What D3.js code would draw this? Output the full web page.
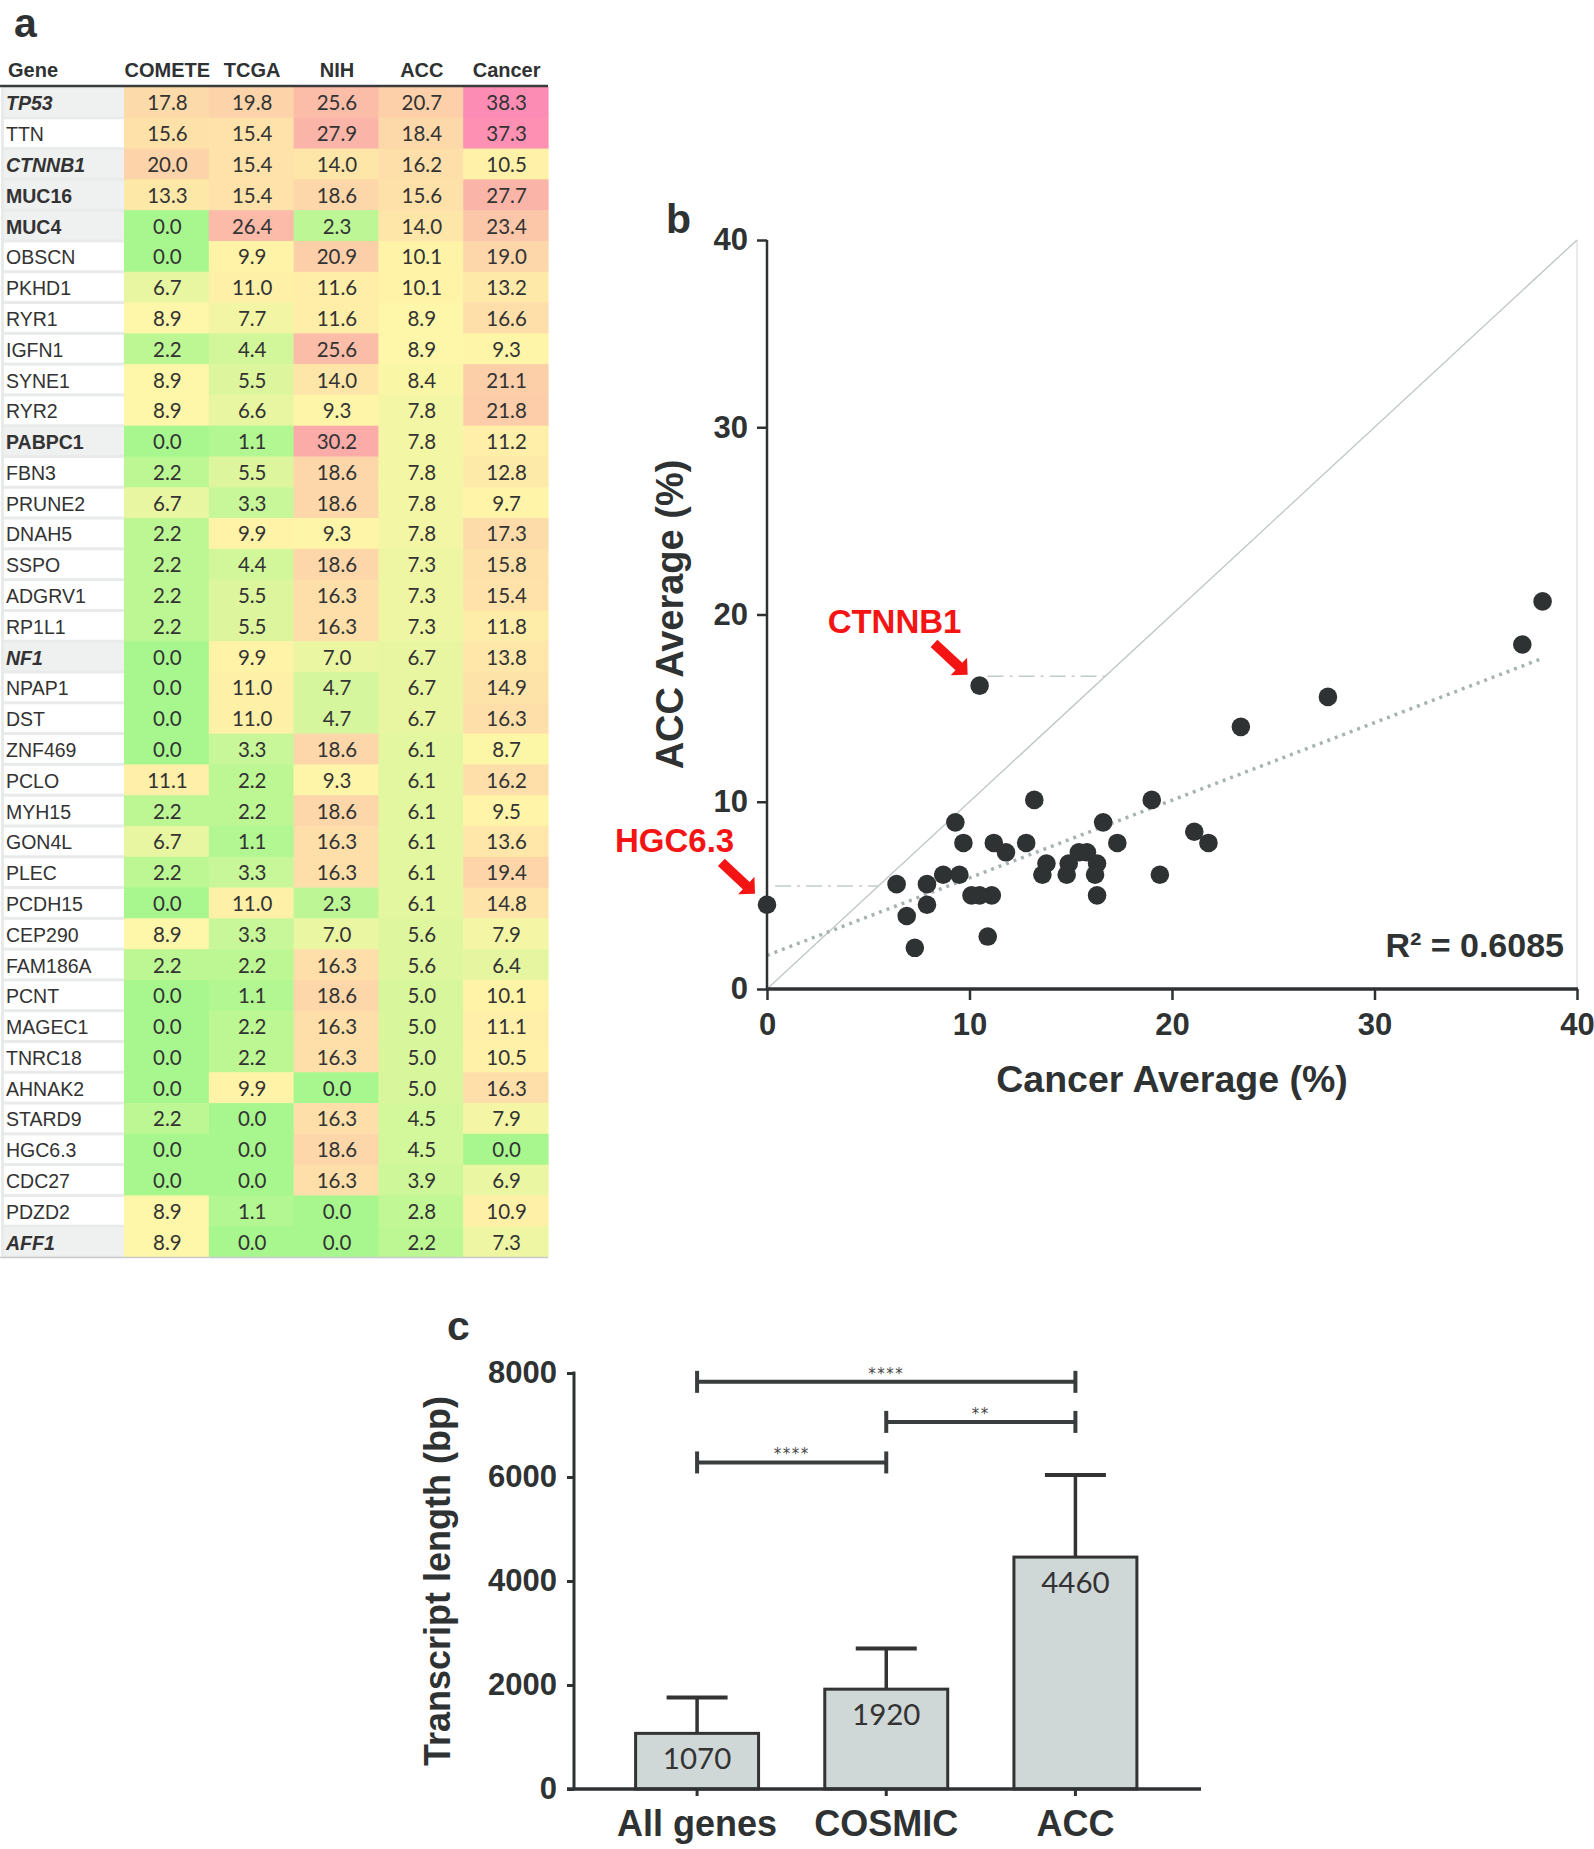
<!DOCTYPE html>
<html><head><meta charset="utf-8">
<script src="https://cdn.jsdelivr.net/npm/d3@7"></script>
<style>body{margin:0;background:#fff}svg{display:block}</style>
</head><body>
<svg id="c" width="1594" height="1849"></svg>
<script>
// ---------------- DATA ----------------
const genes = ["TP53","TTN","CTNNB1","MUC16","MUC4","OBSCN","PKHD1","RYR1","IGFN1","SYNE1","RYR2","PABPC1","FBN3","PRUNE2","DNAH5","SSPO","ADGRV1","RP1L1","NF1","NPAP1","DST","ZNF469","PCLO","MYH15","GON4L","PLEC","PCDH15","CEP290","FAM186A","PCNT","MAGEC1","TNRC18","AHNAK2","STARD9","HGC6.3","CDC27","PDZD2","AFF1"];
const comete = [17.8,15.6,20.0,13.3,0.0,0.0,6.7,8.9,2.2,8.9,8.9,0.0,2.2,6.7,2.2,2.2,2.2,2.2,0.0,0.0,0.0,0.0,11.1,2.2,6.7,2.2,0.0,8.9,2.2,0.0,0.0,0.0,0.0,2.2,0.0,0.0,8.9,8.9];
const tcga   = [19.8,15.4,15.4,15.4,26.4,9.9,11.0,7.7,4.4,5.5,6.6,1.1,5.5,3.3,9.9,4.4,5.5,5.5,9.9,11.0,11.0,3.3,2.2,2.2,1.1,3.3,11.0,3.3,2.2,1.1,2.2,2.2,9.9,0.0,0.0,0.0,1.1,0.0];
const nih    = [25.6,27.9,14.0,18.6,2.3,20.9,11.6,11.6,25.6,14.0,9.3,30.2,18.6,18.6,9.3,18.6,16.3,16.3,7.0,4.7,4.7,18.6,9.3,18.6,16.3,16.3,2.3,7.0,16.3,18.6,16.3,16.3,0.0,16.3,18.6,16.3,0.0,0.0];
const acc    = [20.7,18.4,16.2,15.6,14.0,10.1,10.1,8.9,8.9,8.4,7.8,7.8,7.8,7.8,7.8,7.3,7.3,7.3,6.7,6.7,6.7,6.1,6.1,6.1,6.1,6.1,6.1,5.6,5.6,5.0,5.0,5.0,5.0,4.5,4.5,3.9,2.8,2.2];
const cancer = [38.3,37.3,10.5,27.7,23.4,19.0,13.2,16.6,9.3,21.1,21.8,11.2,12.8,9.7,17.3,15.8,15.4,11.8,13.8,14.9,16.3,8.7,16.2,9.5,13.6,19.4,14.8,7.9,6.4,10.1,11.1,10.5,16.3,7.9,0.0,6.9,10.9,7.3];
const columns = ["COMETE","TCGA","NIH","ACC","Cancer"];
const boldGenes = ["TP53","CTNNB1","MUC16","MUC4","PABPC1","NF1","AFF1"];
const italicGenes = ["TP53","CTNNB1","NF1","AFF1"];

const scatterTicks = [0,10,20,30,40];
const annoGenes = ["CTNNB1","HGC6.3"];
const annoGuideY = [16.7,5.5];
const r2Label = "R² = 0.6085";

const barCats = ["All genes","COSMIC","ACC"];
const barMeans = [1070,1920,4460];
const barErrTop = [1760,2700,6040];
const barTicks = [0,2000,4000,6000,8000];
const bracketFrom = ["All genes","COSMIC","All genes"];
const bracketTo = ["ACC","ACC","COSMIC"];
const bracketY = [7830,7060,6280];
const bracketStars = ["****","**","****"];

// ---------------- SETUP ----------------
const svg = d3.select('#c');
const SANS = "'Liberation Sans', Arial, sans-serif";
const NUM = "Lato, 'Open Sans', sans-serif";
const ink = '#2f3233';
svg.append('rect').attr('width',1594).attr('height',1849).attr('fill','#fff');

// panel letters
[['a',14,37],['b',666,233],['c',447,1340]].forEach(([t,x,y])=>{
  svg.append('text').attr('x',x).attr('y',y).text(t)
    .attr('font-family',SANS).attr('font-weight','bold').attr('font-size',41).attr('fill',ink);
});

// ---------------- TABLE (a) ----------------
const rowY = d3.scaleBand(genes,[87,1257]);
const colX = d3.scaleBand(columns,[124,548]);
const heat = d3.scaleLinear([0,9,20,30,38.3],['#a7f78e','#fff6a8','#fdd3a9','#fbaca8','#fd8cb5']).clamp(true);
const colData = [comete,tcga,nih,acc,cancer];
const tbl = svg.append('g');

tbl.append('rect').attr('x',1).attr('y',87).attr('width',123).attr('height',1170).attr('fill','#e9ebeb');
tbl.selectAll('rect.gc').data(genes).join('rect').attr('class','gc')
  .attr('x',4).attr('y',g=>rowY(g)+1.5).attr('width',120).attr('height',rowY.bandwidth()-3)
  .attr('fill',g=>boldGenes.includes(g)?'#eff0f0':'#ffffff');

columns.forEach((c,ci)=>{
  const vals = colData[ci];
  tbl.append('g').selectAll('rect').data(genes).join('rect')
    .attr('x',colX(c)).attr('y',g=>rowY(g)).attr('width',colX.bandwidth()+0.6).attr('height',rowY.bandwidth()+0.6)
    .attr('fill',(g,i)=>heat(vals[i]));
  tbl.append('g').selectAll('text').data(genes).join('text')
    .attr('x',colX(c)+colX.bandwidth()/2+1).attr('y',g=>rowY(g)+rowY.bandwidth()/2+8)
    .attr('text-anchor','middle').attr('font-family',NUM).attr('font-size',20.5).attr('fill','#333')
    .text((g,i)=>d3.format('.1f')(vals[i]));
});
tbl.selectAll('text.gn').data(genes).join('text').attr('class','gn')
  .attr('x',6).attr('y',g=>rowY(g)+rowY.bandwidth()/2+8)
  .attr('font-family',SANS).attr('font-size',19.5).attr('fill','#333')
  .attr('font-weight',g=>boldGenes.includes(g)?'bold':'normal')
  .attr('font-style',g=>italicGenes.includes(g)?'italic':'normal')
  .text(g=>g);
// header
tbl.append('text').attr('x',8).attr('y',77).text('Gene')
  .attr('font-family',SANS).attr('font-weight','bold').attr('font-size',20).attr('fill',ink);
tbl.selectAll('text.hd').data(columns).join('text').attr('class','hd')
  .attr('x',c=>colX(c)+colX.bandwidth()/2+1).attr('y',77).attr('text-anchor','middle')
  .attr('font-family',SANS).attr('font-weight','bold').attr('font-size',20).attr('fill',ink).text(c=>c);
tbl.append('line').attr('x1',0).attr('x2',548).attr('y1',86).attr('y2',86).attr('stroke','#3a3c3c').attr('stroke-width',2.5);
tbl.append('line').attr('x1',0).attr('x2',548).attr('y1',1257.5).attr('y2',1257.5).attr('stroke','#c9cbcb').attr('stroke-width',1.5);

// ---------------- SCATTER (b) ----------------
const xS = d3.scaleLinear([0,40],[767,1577]);
const yS = d3.scaleLinear([0,40],[989,240]);
const sc = svg.append('g');

sc.append('line').attr('x1',xS(40)).attr('x2',xS(40)).attr('y1',yS(40)).attr('y2',yS(0)).attr('stroke','#d3d8d8').attr('stroke-width',1);
sc.append('line').attr('x1',xS(0)).attr('y1',yS(0)).attr('x2',xS(40)).attr('y2',yS(40)).attr('stroke','#bfc6c6').attr('stroke-width',1.3);
const mx = d3.mean(cancer), my = d3.mean(acc);
const slope = d3.sum(cancer.map((x,i)=>(x-mx)*(acc[i]-my)))/d3.sum(cancer.map(x=>(x-mx)**2));
const icpt = my - slope*mx;
const xmax = d3.max(cancer);
sc.append('line').attr('x1',xS(0)).attr('y1',yS(icpt)).attr('x2',xS(xmax)).attr('y2',yS(icpt+slope*xmax))
  .attr('stroke','#a9b2b2').attr('stroke-width',3.5).attr('stroke-dasharray','3 5');

annoGenes.forEach((g,k)=>{
  const i = genes.indexOf(g);
  const gy = annoGuideY[k];
  sc.append('line').attr('x1',xS(cancer[i])+8).attr('x2',xS(gy)).attr('y1',yS(gy)).attr('y2',yS(gy))
    .attr('stroke','#c4caca').attr('stroke-width',1.5).attr('stroke-dasharray','16 6 3 6');
});

const yAx = sc.append('g').attr('transform',`translate(${xS(0)},0)`)
  .call(d3.axisLeft(yS).tickValues(scatterTicks).tickSize(10).tickPadding(9).tickSizeOuter(0));
const xAx = sc.append('g').attr('transform',`translate(0,${yS(0)})`)
  .call(d3.axisBottom(xS).tickValues(scatterTicks).tickSize(11).tickPadding(13).tickSizeOuter(0));
[yAx,xAx].forEach(a=>{
  a.select('.domain').remove();
  a.selectAll('line').attr('stroke',ink).attr('stroke-width',2.5);
  a.selectAll('text').attr('font-family',SANS).attr('font-weight','bold').attr('font-size',31).attr('fill',ink);
});
xAx.selectAll('text').attr('dy','0.72em');
sc.append('line').attr('x1',xS(0)).attr('x2',xS(0)).attr('y1',yS(40)).attr('y2',yS(0)).attr('stroke',ink).attr('stroke-width',2.5);
sc.append('line').attr('x1',xS(0)-1).attr('x2',xS(40)+1).attr('y1',yS(0)).attr('y2',yS(0)).attr('stroke',ink).attr('stroke-width',3.5);

sc.selectAll('circle').data(genes).join('circle')
  .attr('cx',(g,i)=>xS(cancer[i])).attr('cy',(g,i)=>yS(acc[i])).attr('r',9.3).attr('fill','#2f3233');

const arrowPts = [[0,0],[-12,-12],[-12,-5],[-46,-5],[-46,5],[-12,5],[-12,12]];
annoGenes.forEach(g=>{
  const i = genes.indexOf(g);
  const px = xS(cancer[i]), py = yS(acc[i]);
  sc.append('polygon').attr('points',arrowPts.map(p=>p.join(',')).join(' '))
    .attr('transform',`translate(${px-12},${py-11}) rotate(43)`).attr('fill','#f41414');
  sc.append('text').attr('x',px-152).attr('y',py-53).text(g)
    .attr('font-family',SANS).attr('font-weight','bold').attr('font-size',33).attr('fill','#f41414');
});
sc.append('text').attr('x',1564).attr('y',957).attr('text-anchor','end').text(r2Label)
  .attr('font-family',SANS).attr('font-weight','bold').attr('font-size',34).attr('fill',ink);
sc.append('text').attr('x',(xS(0)+xS(40))/2).attr('y',1092).attr('text-anchor','middle').text('Cancer Average (%)')
  .attr('font-family',SANS).attr('font-weight','bold').attr('font-size',37.5).attr('fill',ink);
sc.append('text').attr('transform',`translate(683,${(yS(0)+yS(40))/2}) rotate(-90)`).attr('text-anchor','middle').text('ACC Average (%)')
  .attr('font-family',SANS).attr('font-weight','bold').attr('font-size',38).attr('fill',ink);

// ---------------- BAR CHART (c) ----------------
const xB = d3.scaleBand(barCats,[602.5,1170]).paddingInner(0.35).paddingOuter(0.175);
const yB = d3.scaleLinear([0,8000],[1789,1373]);
const bc = svg.append('g');
const cx = c=>xB(c)+xB.bandwidth()/2;

bc.selectAll('rect').data(barCats).join('rect')
  .attr('x',c=>xB(c)).attr('width',xB.bandwidth())
  .attr('y',(c,i)=>yB(barMeans[i])).attr('height',(c,i)=>yB(0)-yB(barMeans[i]))
  .attr('fill','#cfd7d7').attr('stroke','#333').attr('stroke-width',3);
barCats.forEach((c,i)=>{
  bc.append('line').attr('x1',cx(c)).attr('x2',cx(c)).attr('y1',yB(barMeans[i])).attr('y2',yB(barErrTop[i]))
    .attr('stroke','#333').attr('stroke-width',3.5);
  bc.append('line').attr('x1',cx(c)-30.5).attr('x2',cx(c)+30.5).attr('y1',yB(barErrTop[i])).attr('y2',yB(barErrTop[i]))
    .attr('stroke','#333').attr('stroke-width',4);
});
bc.selectAll('text.val').data(barCats).join('text').attr('class','val')
  .attr('x',cx).attr('y',(c,i)=>yB(barMeans[i])+36).attr('text-anchor','middle')
  .attr('font-family',NUM).attr('font-size',29.5).attr('fill','#333').text((c,i)=>barMeans[i]);
bracketY.forEach((v,k)=>{
  const x1 = cx(bracketFrom[k]), x2 = cx(bracketTo[k]), y = yB(v);
  const g = bc.append('g').attr('stroke','#3a3d3d').attr('stroke-width',4);
  g.append('line').attr('x1',x1).attr('x2',x2).attr('y1',y).attr('y2',y);
  g.append('line').attr('x1',x1).attr('x2',x1).attr('y1',y-11).attr('y2',y+11);
  g.append('line').attr('x1',x2).attr('x2',x2).attr('y1',y-11).attr('y2',y+11);
  bc.append('text').attr('x',(x1+x2)/2).attr('y',y-3).attr('text-anchor','middle').text(bracketStars[k])
    .attr('font-family',"'DejaVu Sans', sans-serif").attr('font-size',15).attr('letter-spacing',1.5).attr('fill','#444');
});
const yAxB = bc.append('g').attr('transform',`translate(574,0)`)
  .call(d3.axisLeft(yB).tickValues(barTicks).tickFormat(d3.format('d')).tickSize(7).tickPadding(10).tickSizeOuter(0));
yAxB.select('.domain').remove();
yAxB.selectAll('line').attr('stroke',ink).attr('stroke-width',3);
yAxB.selectAll('text').attr('font-family',SANS).attr('font-weight','bold').attr('font-size',31).attr('fill',ink);
bc.append('line').attr('x1',574).attr('x2',574).attr('y1',yB(8000)-1.5).attr('y2',yB(0)).attr('stroke',ink).attr('stroke-width',3);
bc.append('line').attr('x1',567).attr('x2',1201).attr('y1',yB(0)).attr('y2',yB(0)).attr('stroke',ink).attr('stroke-width',3.5);
bc.selectAll('line.xt').data(barCats).join('line').attr('class','xt')
  .attr('x1',cx).attr('x2',cx).attr('y1',yB(0)).attr('y2',yB(0)+7).attr('stroke',ink).attr('stroke-width',3);
bc.selectAll('text.cat').data(barCats).join('text').attr('class','cat')
  .attr('x',cx).attr('y',1836).attr('text-anchor','middle').text(c=>c)
  .attr('font-family',SANS).attr('font-weight','bold').attr('font-size',36).attr('fill',ink);
bc.append('text').attr('transform',`translate(450,${(yB(0)+yB(8000))/2}) rotate(-90)`).attr('text-anchor','middle')
  .text('Transcript length (bp)').attr('font-family',SANS).attr('font-weight','bold').attr('font-size',36).attr('fill',ink);
</script>
</body></html>
